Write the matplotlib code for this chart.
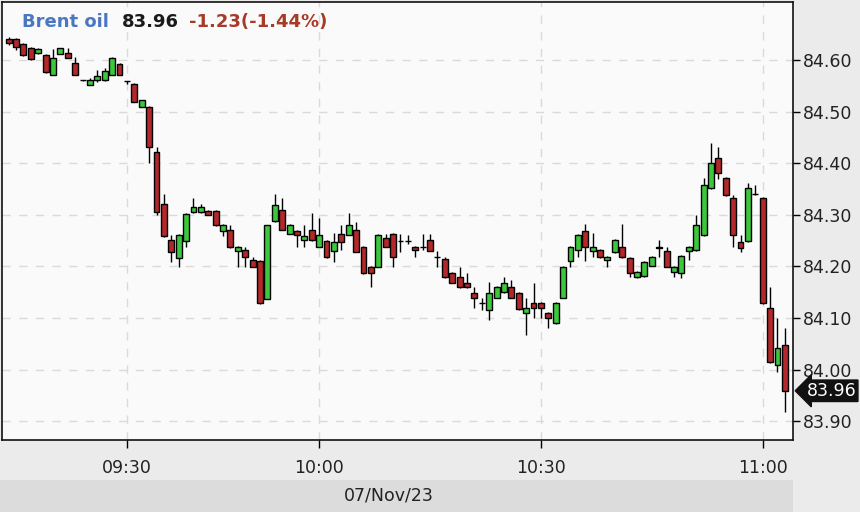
import matplotlib
matplotlib.use('Agg')
import matplotlib.pyplot as plt
import matplotlib.transforms as mtransforms
from matplotlib.patches import Rectangle

# 1-minute Brent candles, 07/Nov/23
opens = [84.641, 84.641, 84.631, 84.623, 84.613, 84.610, 84.571, 84.612, 84.614, 84.594,
         84.561, 84.552, 84.561, 84.561, 84.571, 84.592, 84.559, 84.553, 84.509, 84.509,
         84.422, 84.321, 84.251, 84.216, 84.249, 84.305, 84.305, 84.307, 84.307, 84.269,
         84.271, 84.230, 84.232, 84.212, 84.210, 84.137, 84.288, 84.309, 84.263, 84.269,
         84.251, 84.271, 84.238, 84.249, 84.230, 84.263, 84.261, 84.271, 84.238, 84.199,
         84.199, 84.255, 84.263, 84.249, 84.249, 84.238, 84.238, 84.251, 84.218, 84.214,
         84.187, 84.179, 84.168, 84.148, 84.129, 84.116, 84.139, 84.150, 84.160, 84.148,
         84.110, 84.129, 84.129, 84.110, 84.090, 84.139, 84.210, 84.232, 84.269, 84.230,
         84.232, 84.212, 84.228, 84.238, 84.216, 84.179, 84.181, 84.201, 84.236, 84.230,
         84.189, 84.187, 84.230, 84.232, 84.261, 84.352, 84.410, 84.371, 84.333, 84.247,
         84.249, 84.340, 84.333, 84.119, 84.009, 84.048]
highs = [84.645, 84.643, 84.633, 84.625, 84.623, 84.612, 84.621, 84.624, 84.623, 84.606,
         84.562, 84.565, 84.581, 84.585, 84.606, 84.594, 84.560, 84.555, 84.523, 84.510,
         84.431, 84.340, 84.261, 84.263, 84.304, 84.333, 84.320, 84.309, 84.309, 84.282,
         84.280, 84.240, 84.238, 84.218, 84.212, 84.281, 84.340, 84.333, 84.282, 84.271,
         84.280, 84.304, 84.294, 84.251, 84.265, 84.280, 84.304, 84.286, 84.240, 84.201,
         84.262, 84.262, 84.265, 84.263, 84.261, 84.240, 84.263, 84.263, 84.230, 84.218,
         84.189, 84.199, 84.187, 84.160, 84.139, 84.170, 84.162, 84.179, 84.174, 84.150,
         84.139, 84.168, 84.131, 84.112, 84.131, 84.201, 84.240, 84.263, 84.282, 84.265,
         84.234, 84.220, 84.253, 84.282, 84.218, 84.191, 84.210, 84.220, 84.251, 84.238,
         84.201, 84.222, 84.240, 84.300, 84.371, 84.439, 84.431, 84.373, 84.338, 84.261,
         84.362, 84.358, 84.335, 84.160, 84.100, 84.081]
lows = [84.630, 84.620, 84.608, 84.600, 84.611, 84.575, 84.570, 84.611, 84.603, 84.570,
        84.560, 84.551, 84.557, 84.560, 84.570, 84.570, 84.553, 84.518, 84.508, 84.400,
        84.300, 84.257, 84.209, 84.199, 84.238, 84.303, 84.303, 84.299, 84.279, 84.259,
        84.236, 84.199, 84.199, 84.198, 84.128, 84.136, 84.286, 84.270, 84.262, 84.238,
        84.238, 84.250, 84.237, 84.217, 84.208, 84.232, 84.260, 84.227, 84.186, 84.160,
        84.198, 84.237, 84.199, 84.228, 84.244, 84.218, 84.232, 84.229, 84.199, 84.178,
        84.167, 84.159, 84.159, 84.119, 84.116, 84.096, 84.138, 84.149, 84.138, 84.116,
        84.067, 84.100, 84.100, 84.081, 84.088, 84.138, 84.199, 84.218, 84.210, 84.218,
        84.216, 84.199, 84.226, 84.217, 84.179, 84.178, 84.180, 84.200, 84.218, 84.198,
        84.179, 84.177, 84.212, 84.230, 84.259, 84.350, 84.370, 84.337, 84.238, 84.228,
        84.248, 84.339, 84.128, 84.013, 83.995, 83.918]
closes = [84.633, 84.625, 84.610, 84.602, 84.621, 84.577, 84.604, 84.623, 84.604, 84.571,
          84.561, 84.561, 84.569, 84.579, 84.604, 84.571, 84.559, 84.519, 84.522, 84.431,
          84.305, 84.259, 84.228, 84.261, 84.302, 84.315, 84.315, 84.300, 84.280, 84.280,
          84.238, 84.238, 84.218, 84.199, 84.129, 84.280, 84.319, 84.271, 84.280, 84.261,
          84.259, 84.251, 84.261, 84.218, 84.247, 84.247, 84.280, 84.228, 84.187, 84.187,
          84.261, 84.238, 84.218, 84.250, 84.249, 84.232, 84.238, 84.230, 84.218, 84.179,
          84.168, 84.160, 84.160, 84.139, 84.129, 84.148, 84.160, 84.168, 84.139, 84.117,
          84.119, 84.119, 84.119, 84.100, 84.129, 84.199, 84.238, 84.261, 84.238, 84.238,
          84.218, 84.218, 84.251, 84.218, 84.187, 84.189, 84.208, 84.218, 84.238, 84.199,
          84.199, 84.220, 84.238, 84.280, 84.358, 84.400, 84.381, 84.338, 84.261, 84.236,
          84.352, 84.340, 84.129, 84.015, 84.042, 83.959]

tick_pos = [16, 42, 72, 102]
tick_labels = ['09:30', '10:00', '10:30', '11:00']
price_ticks = [83.90, 84.00, 84.10, 84.20, 84.30, 84.40, 84.50, 84.60]

GREEN = '#3cc83c'
RED = '#b3282a'

fig = plt.figure(figsize=(8.6, 5.12), dpi=100, facecolor='#ebebeb')
# date band at the bottom
fig.patches.append(Rectangle((0, 0), 793 / 860, 32 / 512, transform=fig.transFigure,
                             facecolor='#dcdcdc', edgecolor='none', zorder=0))

ax = fig.add_axes([2 / 860, 72 / 512, 791 / 860, 438 / 512])
ax.set_facecolor('#fafafa')

idx = list(range(len(opens)))
for i in idx:
    o, h, l, c = opens[i], highs[i], lows[i], closes[i]
    ax.vlines(i, l, h, color='black', linewidth=1, zorder=2)
    col = GREEN if c >= o else RED
    ax.bar(i, abs(c - o), bottom=min(o, c), width=0.8, color=col,
           edgecolor='black', linewidth=1, zorder=3)

ax.set_xlim(-0.9, 106.1)
ax.set_ylim(83.8636, 84.7124)

ax.set_xticks(tick_pos)
ax.set_xticklabels(tick_labels)
ax.set_yticks(price_ticks)
ax.set_yticklabels(['%.2f' % p for p in price_ticks])
ax.yaxis.tick_right()
ax.tick_params(axis='y', length=5, width=1, pad=2, labelsize=12.5, labelcolor='#222222')
ax.tick_params(axis='x', length=6, width=1, pad=8, labelsize=12.5, labelcolor='#222222')

ax.grid(True, color='#dadada', linestyle=(0, (6, 6)), linewidth=1, zorder=0)
ax.set_axisbelow(True)
for s in ax.spines.values():
    s.set_color('#111111')
    s.set_linewidth(1.2)

# last price marker
trans = mtransforms.blended_transform_factory(ax.transAxes, ax.transData)
ax.text(1.017, closes[-1], '%.2f' % closes[-1], transform=trans, color='white',
        fontsize=12.5, va='center', ha='left', clip_on=False, zorder=5,
        bbox=dict(boxstyle='larrow,pad=0.1', fc='#111111', ec='#111111'))

# header
y0 = 1 - 22 / 512
fig.text(22 / 860, y0, 'Brent oil', color='#4a78c0', fontsize=13, fontweight='bold', va='center')
fig.text(122 / 860, y0, '83.96', color='#1a1a1a', fontsize=13, fontweight='bold', va='center')
fig.text(189 / 860, y0, '-1.23(-1.44%)', color='#a83a28', fontsize=13, fontweight='bold', va='center')

fig.text(389 / 860, 1 - 495 / 512, '07/Nov/23', color='#222222', fontsize=12.5,
         ha='center', va='center')

fig.savefig('out.png', dpi=100, facecolor=fig.get_facecolor())
